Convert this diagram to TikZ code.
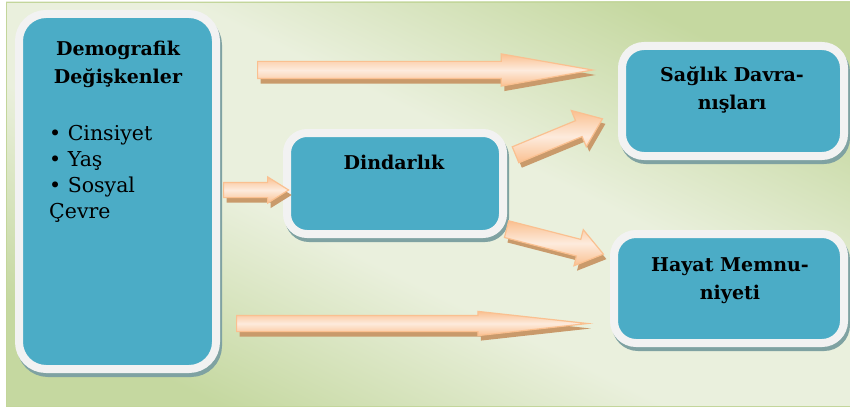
\documentclass[tikz,border=0pt]{standalone}
\usepackage{fontspec}
\setmainfont{DejaVu Serif}
\usetikzlibrary{shapes.arrows,shadows}

\definecolor{boxteal}{HTML}{4BACC6}
\definecolor{boxrim}{HTML}{F2F2F2}
\definecolor{boxshade}{HTML}{7FA2A2}
\definecolor{arrowedge}{HTML}{FAC090}
\definecolor{arrowmid}{HTML}{FDEBDD}
\definecolor{arrowshade}{HTML}{C99A6B}
\definecolor{bgdark}{HTML}{C5D8A0}
\definecolor{bglight}{HTML}{EAF0DD}
\definecolor{bgline}{HTML}{C3D69B}

% panel gradient, light band along the diagonal
\pgfdeclareverticalshading{panelshade}{100bp}{color(0bp)=(bgdark); color(25bp)=(bgdark);
  color(43bp)=(bglight); color(57bp)=(bglight); color(75bp)=(bgdark); color(100bp)=(bgdark)}

\tikzset{
  box/.style={rectangle, draw=boxrim, line width=8pt, fill=boxteal,
    drop shadow={shadow xshift=2pt, shadow yshift=-4pt, fill=boxshade, draw=boxshade, opacity=1}},
  boxtext/.style={font=\bfseries\fontsize{19}{28}\selectfont, align=center, inner sep=0pt},
  listtext/.style={font=\fontsize{20.5}{26}\selectfont, align=left, inner sep=0pt},
  arrowblock/.style={single arrow, inner xsep=0pt, minimum width=0pt, draw=arrowedge, line width=1.2pt,
    top color=arrowedge, bottom color=arrowedge, middle color=arrowmid,
    drop shadow={shadow xshift=3pt, shadow yshift=-5pt, fill=arrowshade, opacity=1},
    sloped, pos=0, anchor=tail}
}

\begin{document}
\begin{tikzpicture}[x=1pt, y=-1pt]
\useasboundingbox (0,0) rectangle (850,409);

% background panel
\shade[shading=panelshade, shading angle=-26, draw=bgline] (6,2) rectangle (850,406);

% the four boxes
\node[box, rounded corners=27pt, minimum width=197, minimum height=355] (demo) at (117.5,191.5) {};
\node[box, rounded corners=20pt, minimum width=216, minimum height=101] (dind) at (395,183.5) {};
\node[box, rounded corners=22pt, minimum width=222, minimum height=110] (saglik) at (733,101) {};
\node[box, rounded corners=22pt, minimum width=230, minimum height=109] (hayat) at (729,288.5) {};

% texts
\node[boxtext, anchor=north] (demotitle) at (118,40.5) {Demografik\\Değişkenler};
\node[listtext, anchor=north west] (demolist) at (49,125) {• Cinsiyet\\• Yaş\\• Sosyal\\Çevre};
\node[boxtext, anchor=base] (dindtitle) at (394,169) {Dindarlık};
\node[boxtext, anchor=north] (saglikttitle) at (732,67) {Sağlık Davra-\\nışları};
\node[boxtext, anchor=north] (hayattitle) at (730,257) {Hayat Memnu-\\niyeti};

% arrow ends
\coordinate (demo-out1) at (257,70);
\coordinate (saglik-in1) at (592,70);
\coordinate (demo-out2) at (236,323.5);
\coordinate (hayat-in1) at (587,323.5);
\coordinate (demo-out3) at (223,190);
\coordinate (dind-in) at (288,190);
\coordinate (dind-out1) at (515,155);
\coordinate (saglik-in2) at (602,119);
\coordinate (dind-out2) at (506,229);
\coordinate (hayat-in2) at (603,254);

% block arrows
\path (demo-out1) -- node[arrowblock, minimum height=335, inner ysep=8pt,
  single arrow head extend=7.5pt, single arrow tip angle=20] (arr1) {} (saglik-in1);
\path (demo-out2) -- node[arrowblock, minimum height=351, inner ysep=7.5pt,
  single arrow head extend=4pt, single arrow tip angle=12.6] (arr2) {} (hayat-in1);
\path (demo-out3) -- node[arrowblock, minimum height=65, inner ysep=7pt,
  single arrow head extend=5.5pt, single arrow tip angle=64] (arr3) {} (dind-in);
\path (dind-out1) -- node[arrowblock, minimum height=94, inner ysep=8pt,
  single arrow head extend=11pt, single arrow tip angle=75] (arr4) {} (saglik-in2);
\path (dind-out2) -- node[arrowblock, minimum height=100, inner ysep=8pt,
  single arrow head extend=10pt, single arrow tip angle=72] (arr5) {} (hayat-in2);
\end{tikzpicture}
\end{document}
